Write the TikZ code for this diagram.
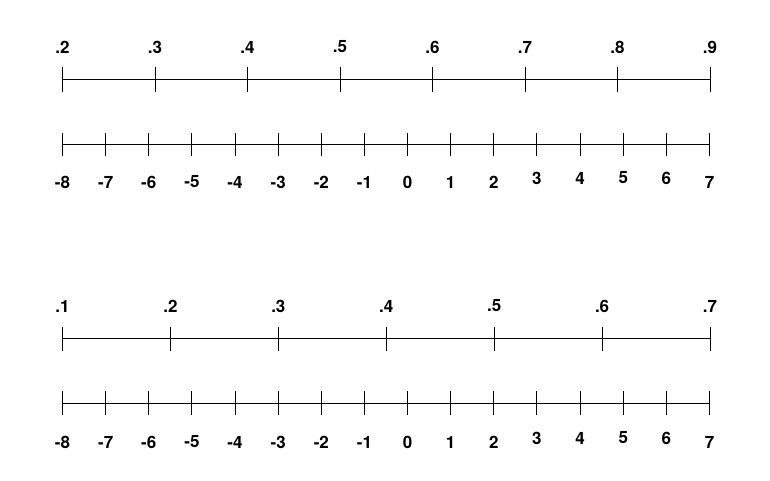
\documentclass[tikz,border=0pt]{standalone}
\usepackage{fontspec}
\setmainfont{TeX Gyre Heros}
\begin{document}
\begin{tikzpicture}[x=1pt,y=-1pt,font=\fontsize{17}{19}\selectfont\bfseries,
  axis/.style={line width=1pt}]
\useasboundingbox (0,0) rectangle (770,480);
% upper pair
\coordinate (a0) at (62.5,79);
\coordinate (a7) at (710,79);
\draw[axis] (a0) -- (a7);
\foreach \i [evaluate=\i as \d using int(\i+2)] in {0,...,7} {
  \draw[axis] (62.5+92.5*\i,67) -- ++(0,25);
  \node (ta\i) at (62.5+92.5*\i,47) {.\d};
}
\coordinate (b0) at (62.5,144);
\coordinate (b15) at (710,144);
\draw[axis] (b0) -- (b15);
\foreach \n in {-8,...,7} {
  \pgfmathsetmacro\ly{ifthenelse(\n>2 && \n<7,178,182)}
  \draw[axis] (62.5+43.13*\n+345.07,133) -- ++(0,23);
  \node (nb\n) at (62.5+43.13*\n+345.07,\ly) {\n};
}
% lower pair
\coordinate (c0) at (62.5,338.5);
\coordinate (c6) at (710,338.5);
\draw[axis] (c0) -- (c6);
\foreach \i [evaluate=\i as \d using int(\i+1)] in {0,...,6} {
  \draw[axis] (62.5+107.92*\i,327) -- ++(0,24);
  \node (tc\i) at (62.5+107.92*\i,306) {.\d};
}
\coordinate (d0) at (62.5,403.5);
\coordinate (d15) at (710,403.5);
\draw[axis] (d0) -- (d15);
\foreach \n in {-8,...,7} {
  \pgfmathsetmacro\ly{ifthenelse(\n>2 && \n<7,438,442)}
  \draw[axis] (62.5+43.13*\n+345.07,391) -- ++(0,24);
  \node (nd\n) at (62.5+43.13*\n+345.07,\ly) {\n};
}
\end{tikzpicture}
\end{document}
